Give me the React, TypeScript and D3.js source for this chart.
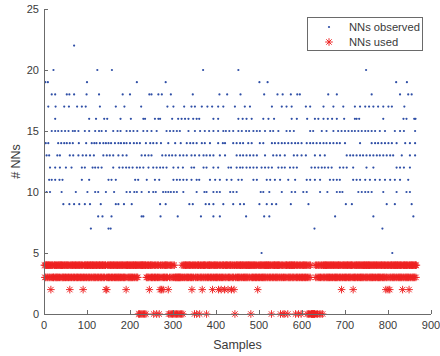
import React from 'react';
import * as d3 from 'd3';

const W = 440;
const H = 356;
const margin = { left: 44, right: 9, top: 9, bottom: 42 };

const xTicks = [0, 100, 200, 300, 400, 500, 600, 700, 800, 900];
const yTicks = [0, 5, 10, 15, 20, 25];
const seriesNames = ['NNs observed', 'NNs used'];

// "NNs observed": sample indices at which each count was observed
const obs22 = [70];
const obs20 = [22, 124, 158, 370, 452, 749];
const obs19 = [3, 9, 100, 216, 283, 501, 520, 819, 844];
const obs18 = [18, 26, 53, 59, 70, 99, 128, 183, 200, 245, 250, 266, 274, 295, 346, 408, 426, 457, 512, 543, 555, 574, 589, 595, 661, 681, 762, 828, 847, 855];
const obs17 = [10, 27, 47, 58, 77, 88, 97, 130, 167, 187, 226, 287, 301, 326, 343, 351, 367, 380, 391, 405, 417, 444, 467, 479, 530, 553, 564, 576, 609, 619, 650, 673, 696, 723, 735, 747, 756, 766, 777, 789, 801, 809, 838];
const obs16 = [26, 105, 121, 140, 147, 178, 202, 231, 235, 258, 266, 270, 298, 312, 320, 328, 336, 347, 355, 361, 394, 405, 452, 462, 471, 483, 510, 522, 535, 576, 588, 612, 630, 638, 650, 660, 670, 681, 698, 723, 727, 733, 789, 836, 843, 861, 864];
const obs15 = [18, 26, 33, 41, 49, 57, 67, 72, 80, 95, 105, 119, 128, 134, 144, 161, 171, 178, 192, 200, 208, 217, 231, 240, 250, 262, 285, 293, 301, 309, 316, 336, 351, 363, 374, 384, 394, 405, 417, 423, 431, 440, 452, 460, 470, 477, 487, 495, 502, 514, 526, 533, 545, 564, 572, 581, 619, 626, 646, 657, 673, 684, 692, 700, 708, 716, 723, 731, 739, 747, 754, 762, 770, 781, 793, 816, 828, 837, 863];
const obs14 = [4, 10, 33, 40, 47, 53, 60, 67, 81, 98, 111, 117, 122, 130, 138, 144, 150, 156, 165, 173, 179, 186, 192, 200, 209, 216, 223, 237, 247, 254, 262, 272, 289, 305, 318, 332, 340, 347, 355, 367, 374, 386, 405, 416, 421, 440, 448, 456, 463, 475, 483, 502, 510, 530, 537, 545, 553, 560, 568, 576, 584, 591, 599, 611, 619, 626, 634, 642, 650, 657, 665, 673, 681, 688, 700, 735, 762, 770, 777, 785, 793, 801, 809, 820, 840, 851, 863];
const obs13 = [6, 12, 31, 37, 60, 68, 80, 90, 98, 107, 116, 138, 146, 153, 161, 173, 183, 192, 227, 235, 243, 250, 275, 283, 291, 298, 306, 316, 324, 332, 343, 351, 361, 371, 378, 386, 394, 409, 421, 448, 456, 463, 471, 479, 487, 495, 514, 533, 541, 549, 560, 581, 589, 599, 609, 630, 642, 653, 704, 712, 719, 727, 735, 742, 750, 758, 766, 774, 781, 789, 797, 805, 812, 832, 851, 863];
const obs12 = [14, 26, 37, 51, 64, 88, 95, 113, 119, 126, 134, 161, 175, 183, 191, 198, 206, 216, 223, 231, 243, 254, 262, 270, 277, 285, 301, 312, 323, 343, 349, 371, 378, 394, 405, 429, 435, 448, 456, 462, 471, 479, 487, 495, 506, 514, 522, 530, 545, 553, 560, 572, 580, 588, 622, 630, 638, 646, 653, 661, 669, 688, 696, 704, 719, 750, 766, 820, 828, 837, 851];
const obs11 = [12, 18, 26, 36, 43, 88, 105, 150, 157, 167, 212, 219, 239, 258, 268, 301, 309, 316, 324, 332, 343, 355, 361, 386, 398, 409, 425, 436, 452, 460, 487, 495, 518, 526, 537, 549, 568, 584, 611, 619, 630, 642, 665, 673, 681, 688, 719, 727, 735, 747, 758, 770, 781, 793, 805, 816, 828, 847];
const obs10 = [6, 14, 41, 74, 101, 119, 126, 144, 163, 192, 200, 210, 216, 227, 244, 254, 260, 277, 283, 289, 295, 302, 309, 324, 355, 373, 378, 394, 402, 409, 433, 440, 448, 504, 510, 524, 553, 576, 584, 603, 611, 642, 659, 681, 688, 694, 731, 739, 747, 754, 762, 789, 820, 843, 851];
const obs9 = [45, 59, 70, 82, 95, 107, 132, 167, 173, 186, 204, 270, 283, 338, 346, 376, 384, 394, 417, 440, 456, 465, 501, 518, 530, 540, 574, 615, 702, 716, 797, 816, 855];
const obs8 = [126, 136, 157, 227, 231, 271, 311, 365, 394, 409, 470, 512, 524, 677, 766, 859];
const obs7 = [109, 150, 155, 629, 787];
const obs5 = [506, 810];

const observedLevels: [number, number[]][] = [
  [22, obs22], [20, obs20], [19, obs19], [18, obs18], [17, obs17], [16, obs16],
  [15, obs15], [14, obs14], [13, obs13], [12, obs12], [11, obs11], [10, obs10],
  [9, obs9], [8, obs8], [7, obs7], [5, obs5],
];

// "NNs used": one value per sample (samples 1..866), 50 samples per row, in groups of 10
const usedRows = [
  '4343443434 4343423443 4334434343 3443434434 4343344343',
  '4344343432 4343443434 3443434343 4434343443 2343443434',
  '4343434434 3443434343 4434343443 4343443434 3442324343',
  '4343443434 3443434343 4343344343 4434343434 2434434343',
  '4343434434 3443434340 4044044044 0440440343 4343243443',
  '4343043434 3043434032 4324342343 4344343420 4304304304',
  '3043033033 0330330330 4304343443 4343434434 3432434340',
  '4343043443 4034343243 4344343043 4343443434 3243434434',
  '3434324343 4234344342 3434434234 3434423434 3240343443',
  '4343434434 3443434343 4343443434 0434343443 4343432434',
  '3434434343 4343434434 3443434304 3434344343 4343443430',
  '4343403430 4344340343 4343443434 3443043434 3043434034',
  '3434434343 4034034034 0000000000 4304304340 3430434034',
  '3434434343 4343434434 3443434343 4343443434 3243434434',
  '3434344343 4343443423 4343434434 3443434343 4343443434',
  '3434434343 4343434434 3443434343 4343443434 3434234342',
  '4342343443 4343434434 3443434343 4342343443 4343434324',
  '3434434343 434434',
];

const obsColor = '#2e4ea6';
const usedColor = '#ee2222';
const axisColor = '#6b6b6b';
const textColor = '#3a3a3a';
const font = '"Liberation Sans", Arial, Helvetica, sans-serif';

const S = 3.8;
const D = 2.7;
const asterisk = `M${-S},0H${S}M0,${-S}V${S}M${-D},${-D}L${D},${D}M${-D},${D}L${D},${-D}`;

export default function App() {
  const x = d3.scaleLinear().domain([0, 900]).range([margin.left, W - margin.right]);
  const y = d3.scaleLinear().domain([0, 25]).range([H - margin.bottom, margin.top]);

  const observed = observedLevels.flatMap(([v, arr]) => arr.map((s) => ({ s, v })));
  const usedSeq = usedRows.join('').replace(/\s/g, '');
  const used = usedSeq.split('').map((c, i) => ({ s: i + 1, v: +c }));

  const x0 = x(0);
  const y0 = y(0);

  return (
    <svg width={W} height={H} style={{ position: 'absolute', left: 0, top: 0, background: '#fff' }} fontFamily={font}>
      <rect x={0} y={0} width={W} height={H} fill="#fff" />
      {/* observed dots */}
      <g fill={obsColor}>
        {observed.map((d, i) => (
          <circle key={i} cx={x(d.s)} cy={y(d.v)} r={1.1} />
        ))}
      </g>
      {/* used asterisks */}
      <g stroke={usedColor} strokeWidth={0.95} fill="none">
        {used.map((d, i) => (
          <path key={i} d={asterisk} transform={`translate(${x(d.s)},${y(d.v)})`} />
        ))}
      </g>
      {/* axes */}
      <g stroke={axisColor} strokeWidth={1} fill="none">
        <line x1={x0 + 0.5} x2={x0 + 0.5} y1={y(25)} y2={y0} />
        <line x1={x0} x2={x(900)} y1={y0 + 0.5} y2={y0 + 0.5} />
        {yTicks.map((t) => (
          <line key={'yt' + t} x1={x0} x2={x0 + 4} y1={Math.round(y(t)) + 0.5} y2={Math.round(y(t)) + 0.5} />
        ))}
        {xTicks.map((t) => (
          <line key={'xt' + t} x1={Math.round(x(t)) + 0.5} x2={Math.round(x(t)) + 0.5} y1={y0} y2={y0 - 4} />
        ))}
      </g>
      <g fill={textColor} fontSize={11}>
        {yTicks.map((t) => (
          <text key={'yl' + t} x={x0 - 5} y={y(t)} dy="0.35em" textAnchor="end">{t}</text>
        ))}
        {xTicks.map((t) => (
          <text key={'xl' + t} x={x(t)} y={y0 + 14.5} textAnchor="middle">{t}</text>
        ))}
      </g>
      <text x={(x0 + x(900)) / 2} y={y0 + 35} textAnchor="middle" fontSize={12.5} fill={textColor}>Samples</text>
      <text transform={`translate(${20},${(y0 + y(25)) / 2}) rotate(-90)`} textAnchor="middle" fontSize={12.5} fill={textColor}># NNs</text>
      {/* legend */}
      <g>
        <rect x={307.5} y={17.5} width={115} height={33} fill="#fff" stroke="#6a6a6a" strokeWidth={1} />
        <circle cx={329} cy={27} r={1.1} fill={obsColor} />
        <path d={asterisk} transform="translate(329,42)" stroke={usedColor} strokeWidth={0.95} fill="none" />
        <text x={349} y={27} dy="0.35em" fontSize={11.2} fill={textColor}>{seriesNames[0]}</text>
        <text x={349} y={42} dy="0.35em" fontSize={11.2} fill={textColor}>{seriesNames[1]}</text>
      </g>
    </svg>
  );
}
